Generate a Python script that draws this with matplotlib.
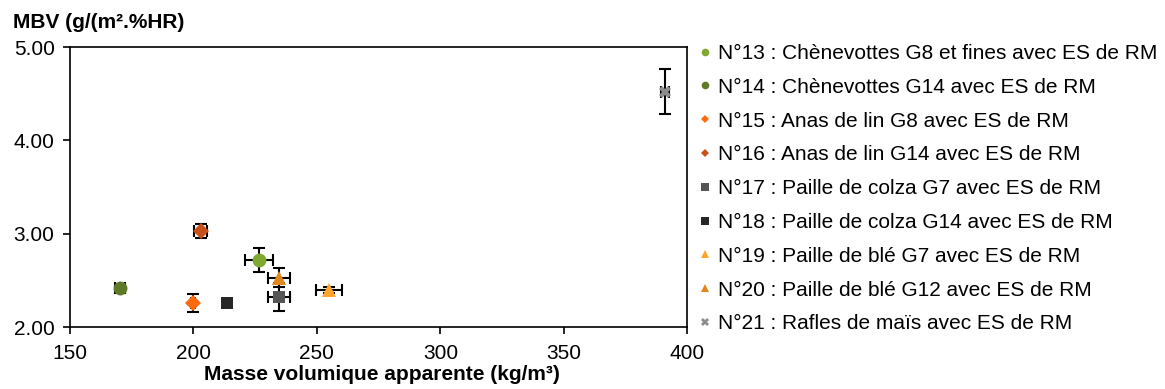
import matplotlib
matplotlib.use("Agg")
import matplotlib.pyplot as plt
from matplotlib.lines import Line2D

plt.rcParams['font.family'] = ['Liberation Sans', 'DejaVu Sans']

labels = [
    "N°13 : Chènevottes G8 et fines avec ES de RM",
    "N°14 : Chènevottes G14 avec ES de RM",
    "N°15 : Anas de lin G8 avec ES de RM",
    "N°16 : Anas de lin G14 avec ES de RM",
    "N°17 : Paille de colza G7 avec ES de RM",
    "N°18 : Paille de colza G14 avec ES de RM",
    "N°19 : Paille de blé G7 avec ES de RM",
    "N°20 : Paille de blé G12 avec ES de RM",
    "N°21 : Rafles de maïs avec ES de RM",
]
density = [226.7, 170.3, 200.0, 203.0, 234.8, 213.5, 254.9, 234.8, 391.0]
mbv = [2.72, 2.42, 2.26, 3.03, 2.32, 2.26, 2.40, 2.53, 4.52]
density_err = [5.7, 2.0, 0.8, 2.7, 4.5, 0.0, 5.4, 4.5, 1.5]
mbv_err = [0.13, 0.03, 0.10, 0.08, 0.15, 0.0, 0.03, 0.10, 0.24]
colors = ['#7fa832', '#5e7a26', '#ff6a10', '#c8501a', '#555555', '#262626', '#ffa52a', '#e0861a', '#8c8c8c']
markers = ['o', 'o', 'D', 'D', 's', 's', '^', '^', 'X']
sizes = [10, 10, 8, 8, 9, 9, 10, 10, 9]

fig = plt.figure(figsize=(11.65, 3.89), dpi=100)
ax = fig.add_axes([0.060, 0.159, 0.530, 0.720])

for i in range(len(labels)):
    if density_err[i] > 0 or mbv_err[i] > 0:
        ax.errorbar(density[i], mbv[i], xerr=density_err[i] if density_err[i] > 0 else None,
                    yerr=mbv_err[i] if mbv_err[i] > 0 else None,
                    fmt='none', ecolor='black', elinewidth=1.5, capsize=4.5, capthick=1.5, zorder=2)
    ax.plot(density[i], mbv[i], linestyle='none', marker=markers[i], color=colors[i],
            markersize=sizes[i], markeredgewidth=0, zorder=3)

ax.set_xlim(150, 400)
ax.set_ylim(2.0, 5.0)
ax.set_xticks([150, 200, 250, 300, 350, 400])
ax.set_yticks([2.0, 3.0, 4.0, 5.0])
ax.set_yticklabels(["2.00", "3.00", "4.00", "5.00"])
ax.tick_params(axis='both', labelsize=15, direction='out', length=5, width=1.2, colors='black')
ax.tick_params(axis='x', pad=7)
ax.tick_params(axis='y', pad=6)
for s in ax.spines.values():
    s.set_linewidth(1.2)
    s.set_color('black')

fig.text(13 / 1165, 1 - 22 / 389, "MBV (g/(m².%HR)", fontsize=15, fontweight='bold', va='center', ha='left')
fig.text(382 / 1165, 1 - 375 / 389, "Masse volumique apparente (kg/m³)", fontsize=15,
         fontweight='bold', va='center', ha='center')

handles = [Line2D([], [], linestyle='none', marker=markers[i], color=colors[i],
                  markersize=4.5 if markers[i] == 'D' else 5.5, markeredgewidth=0)
           for i in range(len(labels))]
fig.legend(handles, labels, loc='upper left', bbox_to_anchor=(699 / 1165, 1 - 44 / 389),
           frameon=False, fontsize=15, labelspacing=0.71, handlelength=0.6, handletextpad=0.3,
           borderaxespad=0, borderpad=0)

fig.savefig("out.png", dpi=100)
